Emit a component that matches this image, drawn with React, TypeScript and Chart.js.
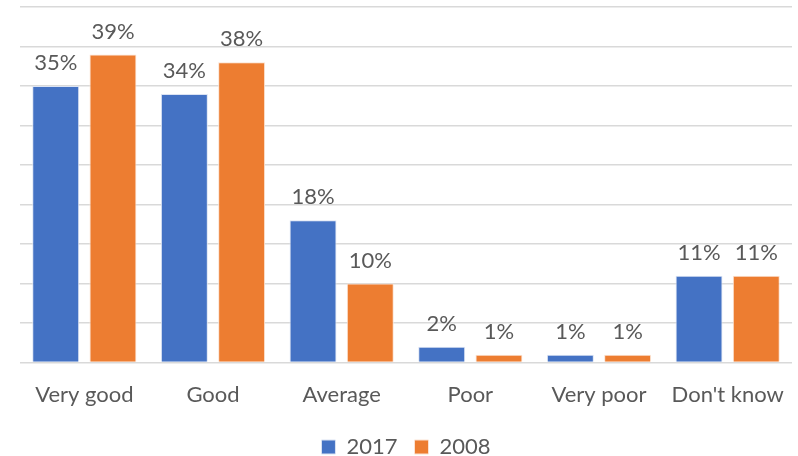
import React, { useEffect, useRef } from "react";
import { Chart, registerables } from "chart.js";

Chart.register(...registerables);

const categories = ["Very good", "Good", "Average", "Poor", "Very poor", "Don't know"];
const series2017 = [35, 34, 18, 2, 1, 11];
const series2008 = [39, 38, 10, 1, 1, 11];
const seriesNames = ["2017", "2008"];

const FONT = "Lato, 'Open Sans', sans-serif";
const FONT_SIZE = 22;
const TEXT = "#595959";

// Percentage labels above each bar
const valueLabels = {
  id: "valueLabels",
  afterDatasetsDraw(chart: any) {
    const ctx = chart.ctx;
    ctx.save();
    ctx.font = `${FONT_SIZE}px ${FONT}`;
    ctx.fillStyle = TEXT;
    ctx.textAlign = "center";
    ctx.textBaseline = "bottom";
    chart.data.datasets.forEach((ds: any, i: number) => {
      const meta = chart.getDatasetMeta(i);
      meta.data.forEach((el: any, j: number) => {
        ctx.fillText(`${ds.data[j]}%`, el.x, el.y - 12);
      });
    });
    ctx.restore();
  },
};

export default function App() {
  const ref = useRef<HTMLCanvasElement>(null);

  useEffect(() => {
    document.body.style.margin = "0";
    const chart = new Chart(ref.current!, {
      type: "bar",
      data: {
        labels: categories,
        datasets: [
          {
            label: seriesNames[0],
            data: series2017,
            backgroundColor: "#4472C4",
            borderColor: "#dbe3f3",
            borderWidth: 1,
          },
          {
            label: seriesNames[1],
            data: series2008,
            backgroundColor: "#ED7D31",
            borderColor: "#fbe2d2",
            borderWidth: 1,
          },
        ],
      },
      options: {
        animation: false,
        responsive: false,
        maintainAspectRatio: false,
        datasets: {
          bar: { categoryPercentage: 0.89, barPercentage: 0.82 },
        },
        layout: { padding: { left: 20, right: 6, top: 7, bottom: -12 } },
        scales: {
          x: {
            grid: { display: false },
            border: { display: false },
            ticks: { color: TEXT, font: { family: FONT, size: FONT_SIZE }, padding: 11 },
          },
          y: {
            min: 0,
            max: 45,
            ticks: { stepSize: 5, display: false },
            border: { display: false },
            grid: { color: "#d9d9d9", lineWidth: 1.5, drawTicks: false },
          },
        },
        plugins: {
          legend: {
            position: "bottom",
            labels: {
              color: TEXT,
              font: { family: FONT, size: FONT_SIZE },
              boxWidth: 14,
              boxHeight: 14,
              padding: 17,
              useBorderRadius: false,
            },
          },
          tooltip: { enabled: false },
        },
      },
      plugins: [valueLabels],
    });
    return () => chart.destroy();
  }, []);

  return (
    <div style={{ width: 798, height: 456, background: "#fff" }}>
      <canvas ref={ref} width={798} height={456} />
    </div>
  );
}
